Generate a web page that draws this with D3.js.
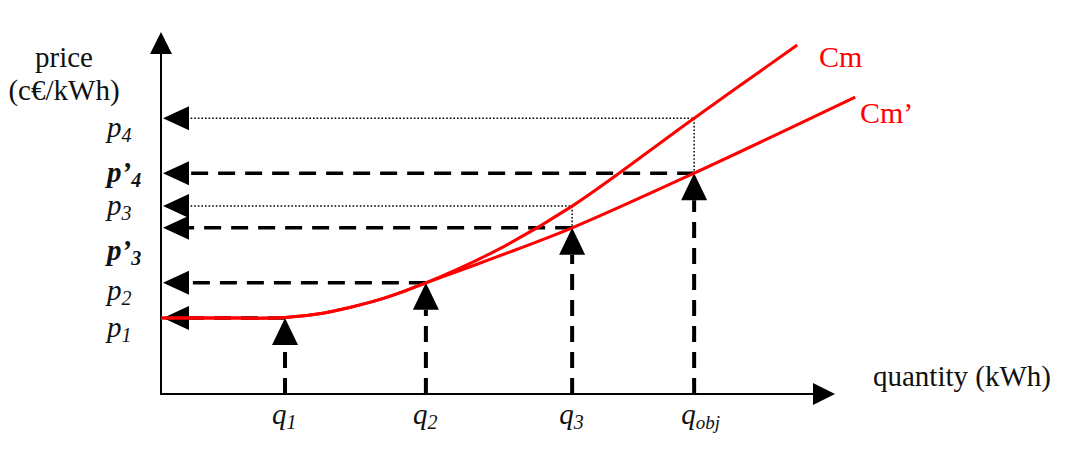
<!DOCTYPE html>
<html><head><meta charset="utf-8">
<script src="https://cdn.jsdelivr.net/npm/d3@7"></script>
<style>body{margin:0;background:#fff} svg{display:block}</style>
</head><body><svg id="c" width="1086" height="460"></svg>
<script>
// ---- data (arbitrary units) ----
const qSubscripts = ["1", "2", "3", "obj"];
const qValues = [18.4, 39.3, 61.0, 79.1];
const primePrices = [21.0, 30.7, 45.9, 61.0];      // p1, p2, p'3, p'4 (on Cm')
const dottedQ = [61.0, 79.1];                       // q3, qobj
const dottedPrices = [51.9, 76.2];                  // p3, p4 (on Cm)
const priceLabelText = ["p", "p", "p’", "p", "p’", "p"];
const priceLabelSub = ["1", "2", "3", "3", "4", "4"];
const priceLabelBold = [false, false, true, false, true, false];
const priceLabelValues = [21.0, 30.7, 45.9, 51.9, 61.0, 76.2];
const cmQ = [0, 9, 18.4, 24, 28, 33, 39.3, 50, 61.0, 79.1, 94.4];
const cmP = [21.0, 21.0, 21.1, 22.3, 23.9, 26.4, 30.7, 39.9, 51.9, 76.2, 96.4];
const cmPrimeQ = [0, 9, 18.4, 24, 28, 33, 39.3, 50, 61.0, 79.1, 103.0];
const cmPrimeP = [21.0, 21.0, 21.1, 22.3, 23.9, 26.4, 30.7, 38.0, 45.9, 61.0, 82.0];
const curveNames = ["Cm", "Cm’"];
const xTitle = "quantity (kWh)";
const yTitle = ["price", "(c€/kWh)"];

// ---- drawing ----
const svg = d3.select("#c");
const x = d3.scaleLinear().domain([0, 100]).range([161, 835]);
const y = d3.scaleLinear().domain([0, 100]).range([394, 32]);
const RED = "#ff0000";
const INK = "#111";
const SERIF = "'Liberation Serif','Times New Roman',serif";

const x0 = x(0), y0 = y(0);
// axes
svg.append("line").attr("x1", x0).attr("y1", y0 + 1).attr("x2", x0).attr("y2", y(100) + 20)
  .attr("stroke", "#000").attr("stroke-width", 2);
svg.append("path").attr("d", `M${x0},${y(100)} L${x0 - 11},${y(100) + 22} L${x0 + 11},${y(100) + 22} Z`).attr("fill", "#000");
svg.append("line").attr("x1", x0 - 1).attr("y1", y0).attr("x2", x(100) - 20).attr("y2", y0)
  .attr("stroke", "#000").attr("stroke-width", 2);
svg.append("path").attr("d", `M${x(100)},${y0} L${x(100) - 22},${y0 - 11} L${x(100) - 22},${y0 + 11} Z`).attr("fill", "#000");

const AW = 26, AH = 24; // arrowhead size
const leftArrow = (yy) => `M${x0 + 2},${yy} L${x0 + 2 + AW},${yy - AH / 2} L${x0 + 2 + AW},${yy + AH / 2} Z`;
const upArrow = (xx, yy) => `M${xx},${yy} L${xx - 13},${yy + 27} L${xx + 13},${yy + 27} Z`;

// dotted guides
dottedQ.forEach((q, i) => {
  const xx = x(q), yy = y(dottedPrices[i]);
  svg.append("path").attr("d", `M${x0 + AW},${yy} L${xx},${yy} L${xx},${y(primePrices[i + 2])}`)
    .attr("fill", "none").attr("stroke", "#000").attr("stroke-width", 1.5).attr("stroke-dasharray", "1.6,2");
  svg.append("path").attr("d", leftArrow(yy)).attr("fill", "#000");
});

// dashed guides + arrows
qValues.forEach((q, i) => {
  const xx = x(q), yy = y(primePrices[i]);
  svg.append("line").attr("x1", xx).attr("y1", yy).attr("x2", x0 + AW).attr("y2", yy)
    .attr("stroke", "#000").attr("stroke-width", 3.5).attr("stroke-dasharray", "17,10");
  svg.append("line").attr("x1", xx).attr("y1", y0).attr("x2", xx).attr("y2", yy + 27)
    .attr("stroke", "#000").attr("stroke-width", 4).attr("stroke-dasharray", "16,10");
  svg.append("path").attr("d", leftArrow(yy)).attr("fill", "#000");
  svg.append("path").attr("d", upArrow(xx, yy)).attr("fill", "#000");
  const t = svg.append("text").attr("x", xx - 13).attr("y", 424)
    .attr("font-family", SERIF).attr("font-style", "italic").attr("font-size", 29).attr("fill", INK);
  t.append("tspan").text("q");
  t.append("tspan").attr("dy", 5).attr("font-size", qSubscripts[i].length > 1 ? 19 : 20).text(qSubscripts[i]);
});

// curves
const line = d3.line().x(d => x(d[0])).y(d => y(d[1])).curve(d3.curveCatmullRom.alpha(0.5));
const cmData = cmQ.map((q, i) => [q, cmP[i]]);
const cmPrimeData = cmPrimeQ.map((q, i) => [q, cmPrimeP[i]]);
[cmData, cmPrimeData].forEach(d => {
  svg.append("path").attr("d", line(d)).attr("fill", "none").attr("stroke", RED).attr("stroke-width", 3);
});
svg.append("text").attr("x", 819).attr("y", 67).attr("font-family", SERIF).attr("font-size", 30).attr("fill", RED).text(curveNames[0]);
svg.append("text").attr("x", 860).attr("y", 123).attr("font-family", SERIF).attr("font-size", 30).attr("fill", RED).text(curveNames[1]);

// price labels (baseline offsets placed by hand like the original)
const labelDy = [19, 17, 32, 9, 9, 19];
priceLabelValues.forEach((p, i) => {
  const t = svg.append("text").attr("x", 107).attr("y", y(p) + labelDy[i])
    .attr("font-family", SERIF).attr("font-style", "italic").attr("font-size", 29)
    .attr("font-weight", priceLabelBold[i] ? "bold" : "normal").attr("fill", INK);
  t.append("tspan").text(priceLabelText[i]);
  t.append("tspan").attr("dy", 5).attr("font-size", 20).text(priceLabelSub[i]);
});

// titles
svg.append("text").attr("x", 873).attr("y", 386).attr("font-family", SERIF).attr("font-size", 29).attr("fill", INK).text(xTitle);
yTitle.forEach((s, i) => {
  svg.append("text").attr("x", 64).attr("y", 67 + i * 33).attr("text-anchor", "middle")
    .attr("font-family", SERIF).attr("font-size", 29).attr("fill", INK).text(s);
});
</script></body></html>
